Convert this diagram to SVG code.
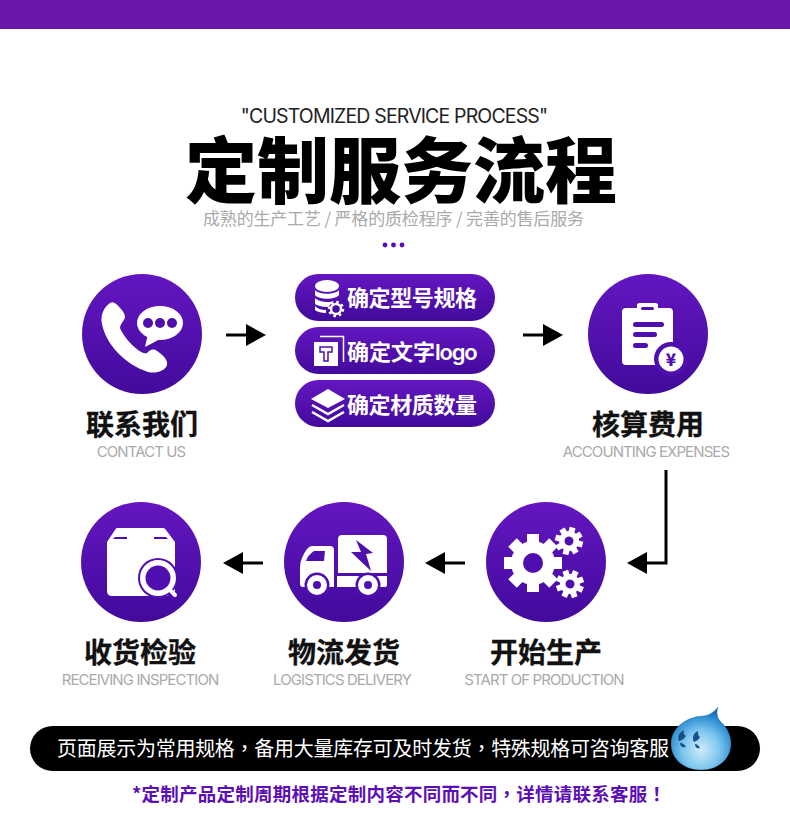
<svg xmlns="http://www.w3.org/2000/svg" width="790" height="840" viewBox="0 0 790 840">
<style>
text{font-family:"Noto Sans CJK SC","Noto Sans",sans-serif}
.en{font-family:Inter,"Liberation Sans",sans-serif;fill:#aaa;font-size:15px;text-anchor:middle;letter-spacing:-.9px}
.cn{font-size:28px;font-weight:700;fill:#111;text-anchor:middle;stroke:#111;stroke-width:.3px}
.pl{font-size:22px;font-weight:700;fill:#fff}
.tc{font-family:"Noto Sans CJK TC",sans-serif}
.w{fill:#fff}
.p{fill:#4f0fae}
.conn{stroke:#000;stroke-width:3;fill:none}
.head{fill:#000}
</style>
<defs>
<linearGradient id="g" x1="0" y1="0" x2="0" y2="1"><stop offset="0" stop-color="#6416c0"/><stop offset="1" stop-color="#420a9c"/></linearGradient>
<radialGradient id="q" cx=".5" cy=".68" r=".62"><stop offset="0" stop-color="#d0ecfa"/><stop offset=".5" stop-color="#7cc6ee"/><stop offset=".85" stop-color="#2f8fd4"/><stop offset="1" stop-color="#1c6fb8"/></radialGradient>
<g id="gear-big"><circle r="22" class="w"/><rect class="w" x="-6" y="-29" width="12" height="58"/><rect class="w" x="-6" y="-29" width="12" height="58" transform="rotate(45)"/><rect class="w" x="-6" y="-29" width="12" height="58" transform="rotate(90)"/><rect class="w" x="-6" y="-29" width="12" height="58" transform="rotate(135)"/><circle r="10" class="p"/></g>
<g id="gear-small"><circle r="10" class="w"/><rect class="w" x="-3" y="-14" width="6" height="28"/><rect class="w" x="-3" y="-14" width="6" height="28" transform="rotate(45)"/><rect class="w" x="-3" y="-14" width="6" height="28" transform="rotate(90)"/><rect class="w" x="-3" y="-14" width="6" height="28" transform="rotate(135)"/><circle r="4.500" class="p"/></g>
</defs>
<rect width="790" height="840" fill="#fff"/>
<rect id="top-bar" width="790" height="29" fill="#6a18aa"/>
<g id="header">
<text x="394" y="123" text-anchor="middle" font-size="19.5" fill="#222" style="font-family:Inter,'Liberation Sans',sans-serif;letter-spacing:-.85px">"CUSTOMIZED SERVICE PROCESS"</text>
<text x="401" y="197" text-anchor="middle" font-size="72" font-weight="900" fill="#000" textLength="432" lengthAdjust="spacing">定制服务流程</text>
<text x="393.500" y="225" text-anchor="middle" font-size="17" fill="#aaa" textLength="381">成熟的生产工艺 / 严格的质检程序 / 完善的售后服务</text>
<circle cx="385" cy="245" r="2.400" fill="#5410b8"/><circle cx="393.500" cy="245" r="2.400" fill="#5410b8"/><circle cx="402" cy="245" r="2.400" fill="#5410b8"/>
</g>
<g id="connectors">
<path class="conn" d="M226 335H250"/><path class="head" d="M246 324L266 335L246 346Z"/>
<path class="conn" d="M523 335H547"/><path class="head" d="M543 324L563 335L543 346Z"/>
<path class="conn" d="M666 470V563H645"/><path class="head" d="M647 552L627 563L647 574Z"/>
<path class="conn" d="M465 563H441"/><path class="head" d="M445 552L425 563L445 574Z"/>
<path class="conn" d="M263 563H239"/><path class="head" d="M243 552L223 563L243 574Z"/>
</g>
<g id="node-contact">
<circle cx="142" cy="334" r="60" fill="url(#g)"/>
<path class="w" d="M110 303C104 307 100 315 102 324C106 344 124 364 148 372C156 374 165 371 167 365C168 360 164 356 157 351C153 348 150 350 147 353C144 354 141 352 138 350C130 344 123 335 120 328C120 325 122 323 124 320C126 317 125 313 120 308C116 303 113 301 110 303Z"/>
<ellipse class="w" cx="160" cy="323" rx="23" ry="17"/>
<path class="w" d="M148 334L145 347L162 338Z"/>
<circle class="p" cx="148" cy="323" r="5"/><circle class="p" cx="160" cy="323" r="5"/><circle class="p" cx="172" cy="323" r="5"/>
<text class="cn" x="142" y="435">联系我们</text>
<text class="en" x="141" y="457">CONTACT US</text>
</g>
<g id="node-spec-model">
<rect x="295" y="274" width="200" height="47" rx="23.500" fill="url(#g)"/>
<ellipse class="w" cx="327" cy="286" rx="12" ry="6"/>
<path class="w" d="M315 290C319 295 335 295 339 290V295C335 300 319 300 315 295Z"/>
<path class="w" d="M315 298C319 302 329 303 334 301L328 307C322 307 318 306 315 304Z"/>
<path class="w" d="M315 306C318 309 322 310 326 310V313C322 313 317 312 315 310Z"/>
<circle cx="336" cy="309" r="5" fill="none" stroke="#fff" stroke-width="2.500"/>
<circle cx="336" cy="309" r="7" fill="none" stroke="#fff" stroke-width="2.500" stroke-dasharray="2.500 3"/>
<text class="pl" x="347" y="306" textLength="130">确定型号规格</text>
</g>
<g id="node-spec-text">
<rect x="295" y="327" width="200" height="47" rx="23.500" fill="url(#g)"/>
<rect class="w" x="314" y="342" width="24" height="24"/>
<path d="M320 347H332V352H328V361H324V352H320Z" fill="none" stroke="#4f0fae" stroke-width="1.500"/>
<path d="M320 336.500H343.500V362" fill="none" stroke="#fff" stroke-width="1.500"/>
<text class="pl" x="347" y="360">确定文字<tspan style="font-family:Inter,'Liberation Sans',sans-serif;font-weight:600;letter-spacing:-1.2px">logo</tspan></text>
</g>
<g id="node-spec-material">
<rect x="295" y="380" width="200" height="47" rx="23.500" fill="url(#g)"/>
<path class="w" d="M328 389L345 399L328 408L311 399Z"/>
<path d="M312 405L328 414L344 405M312 412L328 421L344 412" fill="none" stroke="#fff" stroke-width="2.500"/>
<text class="pl" x="347" y="413" textLength="130">确定材质数量</text>
</g>
<g id="node-accounting">
<circle cx="648" cy="334" r="60" fill="url(#g)"/>
<path class="w" d="M626 308H637V305Q637 303 640 303H655Q658 303 658 305V308H669Q673 308 673 312V361Q673 365 669 365H626Q622 365 622 361V312Q622 308 626 308Z"/>
<rect class="p" x="641" y="307" width="13" height="3" rx="1.500"/>
<rect class="p" x="633" y="322" width="31" height="5" rx="2.500"/>
<rect class="p" x="633" y="332" width="24" height="5" rx="2.500"/>
<rect class="p" x="633" y="343" width="15" height="5" rx="2.500"/>
<circle class="p" cx="671" cy="359" r="17"/>
<circle class="w" cx="671" cy="359" r="12.500"/>
<text x="671" y="365.500" text-anchor="middle" font-size="17" font-weight="900" fill="#4f0fae">¥</text>
<text class="cn" x="648" y="435">核算费用</text>
<text class="en" x="646" y="457">ACCOUNTING EXPENSES</text>
</g>
<g id="node-production">
<circle cx="546" cy="562" r="60" fill="url(#g)"/>
<use href="#gear-big" x="533" y="563"/>
<use href="#gear-small" transform="translate(569 541) rotate(15)"/>
<use href="#gear-small" transform="translate(570 584) rotate(25)"/>
<text class="cn" x="546" y="663">开始生产</text>
<text class="en" x="544" y="685">START OF PRODUCTION</text>
</g>
<g id="node-logistics">
<circle cx="344" cy="562" r="60" fill="url(#g)"/>
<path class="w" d="M342 535H383Q387 535 387 539V573H338V539Q338 535 342 535Z"/>
<path class="w" d="M337 576H387V585Q387 587 385 587H337Z"/>
<path class="w" d="M312 546H330Q334 546 334 550V587H303Q300 587 300 584V567Q300 562 302 558Q307 546 312 546Z"/>
<path class="p" d="M314 551H325L324 561H306Q308 555 314 551Z"/>
<circle class="p" cx="317" cy="585" r="12.500"/><circle class="w" cx="317" cy="585" r="10"/><circle class="p" cx="317" cy="585" r="4"/>
<circle class="p" cx="368" cy="585" r="12.500"/><circle class="w" cx="368" cy="585" r="10"/><circle class="p" cx="368" cy="585" r="4"/>
<path class="p" d="M356 540L373 553L366 554L371 571L351 552L361 552Z"/>
<text class="cn" x="344" y="663">物流发货</text>
<text class="en" x="342" y="685">LOGISTICS DELIVERY</text>
</g>
<g id="node-receiving">
<circle cx="141" cy="562" r="60" fill="url(#g)"/>
<path class="w" d="M117 528H163Q165 528 166 530L175 542V590Q175 596 170 596H112Q107 596 107 591V542L115 530Q116 528 117 528Z"/>
<path class="p" d="M113 539L115 537H127V539ZM154 537H166L168 539H154Z"/>
<path d="M166 589L174 596" stroke="#4f0fae" stroke-width="7" stroke-linecap="round"/>
<circle cx="158" cy="578" r="20" class="p"/>
<circle cx="158" cy="578" r="18" class="w"/>
<circle cx="158" cy="578" r="12.500" class="p"/>
<path d="M169 589L175 595" stroke="#fff" stroke-width="4" stroke-linecap="round"/>
<text class="cn" x="140" y="663">收货检验</text>
<text class="en" x="140" y="685">RECEIVING INSPECTION</text>
</g>
<g id="footer">
<rect x="30" y="726" width="730" height="45" rx="22.500" fill="#000"/>
<text x="57" y="756" font-size="20" fill="#fff" textLength="612">页面展示为常用规格<tspan class="tc">，</tspan>备用大量库存可及时发货<tspan class="tc">，</tspan>特殊规格可咨询客服</text>
<g id="mascot">
<path d="M671 744C671 727 688 716 703 716C710 715 714 712 718 707C716 714 717 719 723 724C728 729 731 736 731 744C731 759 718 770 701 770C684 770 671 759 671 744Z" fill="url(#q)" stroke="#0f3f6e" stroke-opacity=".4" stroke-width=".5"/>
<path d="M684 730C679 732 677 737 679 741C682 740 684 739 686 736C684 735 683 733 684 730ZM680 743C680 746 682 748 686 747C685 745 683 743 680 743ZM698 731C693 733 692 738 694 742C697 741 699 739 700 737C698 736 698 734 698 731ZM695 744C695 747 697 749 700 748C699 746 697 744 695 744Z" fill="#174f86"/>
</g>
<text x="132" y="801" font-size="18.500" font-weight="700" fill="#5c0fb5" textLength="534">*定制产品定制周期根据定制内容不同而不同<tspan class="tc">，</tspan>详情请联系客服<tspan class="tc">！</tspan></text>
</g>
</svg>
